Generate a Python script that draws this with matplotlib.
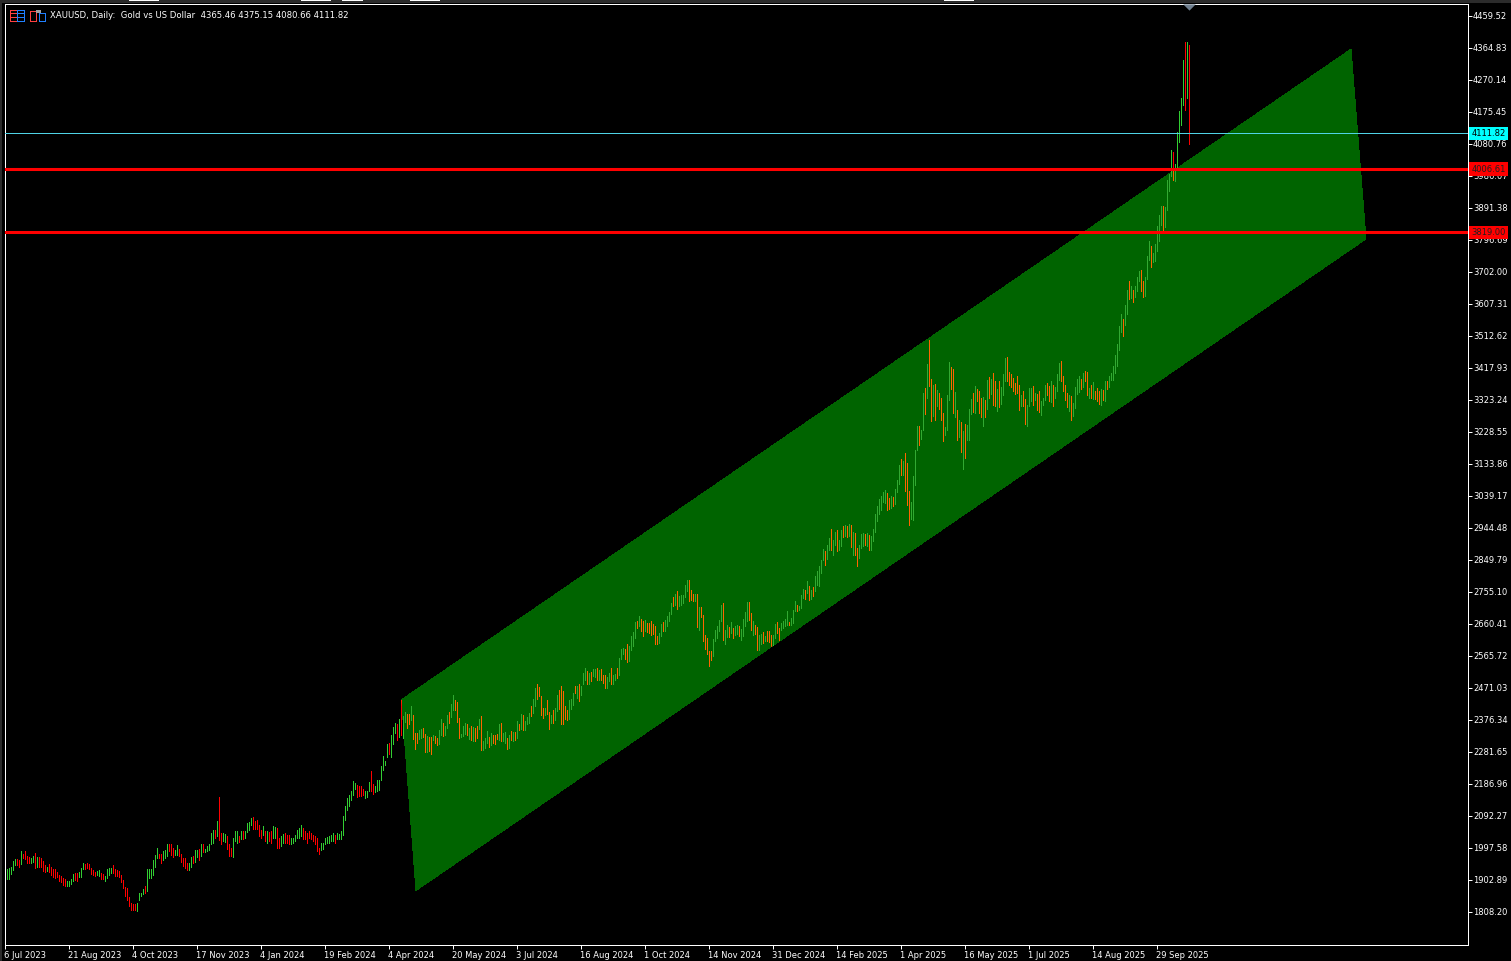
# -*- coding: utf-8 -*-
# XAUUSD daily bars with price channel, drawn in the MT5 terminal look
import matplotlib
matplotlib.use('Agg')
import matplotlib.pyplot as plt
from matplotlib.patches import Polygon, Rectangle

highs = [
    1936,1939,1941,1960,1966,1965,1963,1988,1981,1989,
    1975,1971,1967,1975,1983,1971,1971,1968,1960,1946,
    1942,1949,1941,1936,1934,1928,1919,1914,1909,1906,
    1901,1899,1907,1922,1924,1924,1926,1939,1952,1949,
    1953,1949,1939,1932,1926,1929,1932,1924,1922,1914,
    1934,1939,1939,1948,1936,1932,1929,1917,1904,1883,
    1880,1853,1835,1833,1833,1835,1865,1865,1877,1886,
    1934,1934,1934,1963,1978,1998,1981,1981,1988,1991,
    2010,2010,2010,1998,1993,2005,1995,1981,1968,1968,
    1953,1952,1971,1973,1991,1991,1995,2008,2008,1995,
    2003,2008,2042,2052,2050,2077,2148,2042,2042,2040,
    2034,2008,1998,2027,2049,2047,2034,2049,2047,2047,
    2072,2074,2087,2090,2077,2080,2067,2052,2064,2047,
    2047,2044,2047,2064,2060,2057,2027,2032,2040,2042,
    2037,2037,2027,2027,2037,2052,2057,2067,2057,2047,
    2042,2047,2042,2037,2032,2027,1998,2013,2013,2027,
    2030,2034,2037,2042,2037,2042,2040,2047,2092,2121,
    2146,2153,2167,2197,2190,2185,2182,2180,2173,2165,
    2165,2192,2224,2188,2182,2198,2200,2239,2269,2254,
    2304,2307,2333,2355,2366,2363,2378,2434,2387,2399,
    2395,2395,2419,2392,2338,2338,2346,2350,2353,2336,
    2330,2326,2326,2333,2330,2323,2348,2379,2366,2360,
    2392,2399,2425,2451,2434,2429,2382,2336,2360,2366,
    2363,2353,2360,2356,2353,2358,2379,2389,2315,2323,
    2343,2326,2338,2333,2333,2336,2363,2368,2338,2340,
    2323,2333,2343,2340,2340,2373,2363,2395,2392,2373,
    2385,2397,2419,2439,2471,2484,2474,2447,2412,2412,
    2435,2400,2392,2405,2412,2451,2464,2478,2461,2419,
    2407,2435,2437,2456,2478,2478,2484,2476,2514,2530,
    2520,2516,2518,2527,2528,2530,2525,2527,2508,2508,
    2504,2516,2530,2508,2511,2530,2560,2586,2589,2586,
    2602,2596,2626,2636,2665,2670,2685,2676,2668,2673,
    2663,2663,2670,2661,2655,2626,2634,2661,2667,2671,
    2683,2695,2722,2740,2750,2759,2744,2746,2747,2777,
    2791,2791,2762,2750,2750,2750,2711,2711,2688,2629,
    2619,2581,2579,2617,2642,2655,2673,2718,2722,2644,
    2658,2650,2667,2649,2653,2658,2655,2646,2676,2697,
    2724,2726,2693,2668,2658,2651,2629,2632,2636,2624,
    2640,2640,2629,2629,2661,2666,2649,2663,2668,2675,
    2698,2666,2678,2701,2727,2718,2715,2747,2765,2760,
    2787,2774,2762,2769,2801,2818,2833,2849,2883,2875,
    2895,2915,2942,2910,2932,2939,2908,2939,2949,2954,
    2951,2957,2954,2932,2930,2885,2895,2928,2930,2928,
    2930,2925,2920,2941,2985,3010,3030,3040,3051,3058,
    3048,3033,3038,3035,3060,3087,3130,3148,3144,3166,
    3137,3055,3022,3099,3176,3247,3247,3235,3344,3358,
    3430,3501,3385,3368,3371,3354,3344,3329,3285,3243,
    3339,3435,3421,3415,3347,3294,3265,3258,3230,3253,
    3250,3297,3327,3344,3365,3355,3351,3329,3332,3324,
    3383,3391,3385,3403,3378,3355,3378,3363,3401,3447,
    3450,3405,3401,3388,3373,3395,3368,3339,3351,3326,
    3309,3358,3358,3365,3344,3342,3349,3319,3329,3368,
    3373,3366,3378,3368,3361,3401,3432,3439,3395,3368,
    3344,3337,3336,3314,3361,3385,3393,3385,3403,3410,
    3405,3358,3368,3375,3351,3358,3349,3355,3354,3380,
    3378,3395,3403,3425,3455,3490,3541,3579,3564,3603,
    3648,3676,3660,3650,3660,3687,3704,3709,3674,3687,
    3750,3793,3780,3758,3786,3837,3871,3896,3898,3894,
    3973,3993,4062,4058,4022,4117,4179,4217,4330,4382,
    4383,4375,
]
lows = [
    1907,1907,1921,1931,1946,1947,1942,1951,1968,1965,
    1953,1953,1952,1956,1939,1942,1942,1942,1929,1927,
    1929,1927,1919,1911,1910,1911,1900,1898,1889,1884,
    1884,1884,1892,1899,1904,1901,1912,1912,1934,1934,
    1937,1934,1921,1917,1914,1917,1916,1906,1906,1899,
    1909,1919,1924,1924,1914,1914,1912,1896,1880,1855,
    1845,1825,1813,1813,1813,1810,1843,1855,1860,1865,
    1870,1909,1909,1919,1942,1968,1968,1953,1963,1968,
    1973,1990,1978,1971,1978,1978,1975,1956,1944,1939,
    1932,1932,1942,1953,1955,1971,1963,1975,1985,1985,
    1988,1993,2008,2013,2027,2032,2020,2008,2018,2015,
    1995,1975,1975,1971,2018,2013,2015,2023,2024,2027,
    2044,2052,2067,2054,2054,2054,2032,2027,2037,2018,
    2013,2018,2013,2027,2027,1998,1998,2003,2013,2013,
    2013,2008,2008,2013,2018,2027,2027,2032,2023,2023,
    2013,2027,2023,2018,2008,1988,1981,1993,1995,2008,
    2013,2013,2018,2018,2013,2023,2023,2023,2037,2080,
    2109,2121,2141,2153,2172,2149,2151,2151,2153,2145,
    2149,2165,2165,2157,2163,2165,2170,2200,2228,2244,
    2267,2277,2266,2304,2338,2318,2326,2333,2323,2370,
    2353,2363,2376,2321,2289,2308,2320,2322,2326,2282,
    2281,2284,2277,2318,2308,2301,2304,2333,2330,2333,
    2353,2368,2385,2405,2405,2370,2323,2326,2330,2336,
    2333,2320,2318,2313,2313,2323,2350,2287,2287,2294,
    2308,2297,2301,2308,2304,2320,2318,2315,2313,2308,
    2291,2294,2318,2315,2318,2323,2348,2350,2348,2348,
    2363,2366,2389,2397,2419,2439,2447,2392,2382,2392,
    2395,2351,2366,2368,2376,2402,2409,2363,2363,2379,
    2377,2379,2409,2422,2456,2442,2432,2449,2484,2496,
    2484,2484,2491,2506,2504,2494,2494,2494,2486,2471,
    2471,2491,2484,2484,2496,2501,2508,2558,2572,2557,
    2547,2550,2582,2594,2620,2648,2655,2641,2624,2639,
    2636,2634,2629,2632,2602,2602,2604,2626,2641,2639,
    2655,2668,2691,2713,2718,2706,2713,2717,2722,2740,
    2757,2729,2732,2729,2729,2650,2642,2680,2609,2587,
    2572,2535,2553,2565,2609,2619,2639,2668,2614,2602,
    2622,2621,2634,2619,2629,2632,2624,2612,2626,2655,
    2668,2673,2644,2629,2632,2583,2584,2602,2604,2609,
    2609,2606,2594,2599,2619,2634,2612,2644,2649,2653,
    2658,2656,2658,2663,2698,2698,2701,2708,2737,2734,
    2752,2730,2734,2744,2757,2777,2772,2811,2849,2834,
    2853,2880,2880,2865,2895,2875,2880,2892,2918,2920,
    2918,2920,2888,2865,2865,2831,2856,2885,2890,2893,
    2892,2878,2880,2905,2932,2965,2985,2999,3020,3018,
    2999,3002,3005,3010,3016,3051,3075,3100,3102,3053,
    3013,2954,2972,2969,3073,3176,3191,3208,3233,3283,
    3329,3365,3260,3275,3263,3304,3296,3265,3201,3220,
    3235,3322,3355,3285,3273,3206,3215,3168,3120,3153,
    3206,3204,3283,3289,3286,3321,3285,3273,3245,3272,
    3297,3329,3341,3307,3306,3291,3301,3312,3337,3378,
    3380,3368,3363,3349,3342,3344,3294,3306,3304,3253,
    3247,3304,3321,3309,3322,3294,3289,3280,3309,3322,
    3339,3319,3317,3306,3329,3349,3383,3380,3351,3324,
    3301,3291,3265,3275,3299,3342,3347,3356,3363,3380,
    3339,3329,3329,3327,3327,3321,3312,3309,3324,3319,
    3356,3363,3383,3383,3403,3423,3470,3525,3512,3546,
    3579,3622,3625,3612,3628,3645,3674,3645,3627,3630,
    3682,3737,3717,3731,3733,3763,3793,3842,3824,3835,
    3884,3941,3985,3975,3972,4005,4088,4138,4197,4182,
    4217,4080,
]
# U = bull bar, D = bear bar
directions = (
    "UUUUUDDUDD" "DDUUDUDDDD" "UDDDDDDDDD" "UUUUDDUUUD" "DDDDDUUDDU"
    "UUUDDDDDDD" "DDDDDUUUUD" "UUUUUUDDUU" "UDDDUUDDDD" "DUUDUUDUDU"
    "UUUUDUDDUU" "DDDUUUDUDU" "UUUDDDDDUD" "UDDUUDDUUD" "DDUUUUUUDD"
    "DDDDDDDUUU" "UUUUDUUUUU" "UUUUUDDDDU" "UUDDUUUUUU" "UDUUUDUDUU"
    "DDUDDDUUDD" "UDDUDDUUDU" "UDUUDDDUUU" "DUDUDDUDUU" "UDUDDDUDUU"
    "DUDUDUDUDU" "UUDUUDDDDU" "DDUDUUDDDD" "DUUUDUDUUU" "DUDUUDUDDD"
    "UUDUUDUUUD" "DUUUUDUDDU" "DDDDDDUUDU" "UUUDUDUUUU" "UDDDUDUDDD"
    "DDDUUUUUDU" "UDUDUUDUUU" "UDDUDDUUDU" "DDDUUDDUUU" "UDUUUDUUUD"
    "UDUDUUUUUD" "UUDUUDUUDU" "DUDUDDUUUD" "UDUUUUUUUU" "DDUDUUUDUD"
    "DDUUUUDUUD" "UDDUDUDDDU" "UUDDUDUDUD" "UUUDUDDDUD" "UDUDDUDUUU"
    "DDDDDDDUDD" "UUUDUDDUUU" "DDUDUUUDDD" "DUDUUUUDUD" "DUDUDDDUDU"
    "DUUUUUUUDU" "UDUDUUUDDU" "UUDUUUUUDU" "UUUDUUUUUD" "UD"
)

price_ticks = [4459.52, 4364.83, 4270.14, 4175.45, 4080.76, 3986.07, 3891.38, 3796.69,
               3702.00, 3607.31, 3512.62, 3417.93, 3323.24, 3228.55, 3133.86, 3039.17,
               2944.48, 2849.79, 2755.10, 2660.41, 2565.72, 2471.03, 2376.34, 2281.65,
               2186.96, 2092.27, 1997.58, 1902.89, 1808.20]
date_labels = ['6 Jul 2023', '21 Aug 2023', '4 Oct 2023', '17 Nov 2023', '4 Jan 2024',
               '19 Feb 2024', '4 Apr 2024', '20 May 2024', '3 Jul 2024', '16 Aug 2024',
               '1 Oct 2024', '14 Nov 2024', '31 Dec 2024', '14 Feb 2025', '1 Apr 2025',
               '16 May 2025', '1 Jul 2025', '14 Aug 2025', '29 Sep 2025']
date_bars = [-1 + 32 * k for k in range(len(date_labels))]

channel_bars = [197.5, 672.25, 679.75, 204.75]
channel_prices = [2436, 4361, 3800, 1872]

last_price = 4111.82
red_levels = [4006.61, 3819.00]

BULL = '#32CD32'
BEAR = '#FF0000'
BULL_ON_FILL = '#32A932'   # terminal blends bars with the channel colour
BEAR_ON_FILL = '#FF6400'
FILL = '#006400'
CYAN = '#00FFFF'
W, H = 1511, 961

assert len(highs) == len(lows) == len(directions)

plt.rcParams['font.family'] = ['DejaVu Sans']
fig = plt.figure(figsize=(W / 100, H / 100), dpi=100, facecolor='black')
ax = fig.add_axes([4.5 / W, 1 - 944.5 / H, 1463 / W, 940 / H], facecolor='black')
ax.set_xlim(-1, 730.5)
ax.set_ylim(1712.0, 4493.4)

channel = Polygon(list(zip(channel_bars, channel_prices)), closed=True, fc=FILL, ec='none',
                  antialiased=False, zorder=1)
ax.add_patch(channel)

bars = list(range(len(highs)))
base_cols = [BULL if d == 'U' else BEAR for d in directions]
fill_cols = [BULL_ON_FILL if d == 'U' else BEAR_ON_FILL for d in directions]
ax.vlines(bars, lows, highs, colors=base_cols, linewidth=0.72, antialiased=False, zorder=2)
inner = ax.vlines(bars, lows, highs, colors=fill_cols, linewidth=0.72, antialiased=False, zorder=3)
inner.set_clip_path(channel)

ax.axhline(last_price, color='#4FD3E6', lw=0.72, zorder=4)
for lvl in red_levels:
    ax.axhline(lvl, color='#FF0000', lw=2.2, zorder=5)

# ask marker on the top edge above the last bar
ax.plot(bars[-1], 4486, marker=[(-1, 0.5), (1, 0.5), (0, -0.5)], ms=9, color='#708090',
        mec='none', clip_on=False, zorder=6)

ax.yaxis.tick_right()
ax.set_yticks(price_ticks)
ax.set_yticklabels(['%.2f' % p for p in price_ticks])
ax.set_xticks(date_bars)
ax.set_xticklabels(date_labels, ha='left')
ax.tick_params(axis='y', colors='white', length=3, width=0.72, pad=1, labelsize=6)
ax.tick_params(axis='x', colors='white', length=3, width=0.72, pad=1.5, labelsize=6)
for s in ax.spines.values():
    s.set_color('white')
    s.set_linewidth(0.72)

# price tags on the scale
tag_tf = ax.get_yaxis_transform()
ax.text(1.0026, last_price, '%.2f' % last_price, transform=tag_tf, color='black', fontsize=6,
        va='center', ha='left', clip_on=False, zorder=10,
        bbox=dict(boxstyle='square,pad=0.25', fc=CYAN, ec='none'))
for lvl in red_levels:
    ax.text(1.0026, lvl, '%.2f' % lvl, transform=tag_tf, color='#202020', fontsize=6,
            va='center', ha='left', clip_on=False, zorder=10,
            bbox=dict(boxstyle='square,pad=0.25', fc='#FF0000', ec='none'))

fig.text(50 / W, 1 - 15.5 / H, 'XAUUSD, Daily:  Gold vs US Dollar  4365.46 4375.15 4080.66 4111.82',
         color='white', fontsize=6.1, va='center', ha='left')


def px_rect(x, y, w, h, **kw):
    fig.add_artist(Rectangle((x / W, 1 - (y + h) / H), w / W, h / H, transform=fig.transFigure,
                             antialiased=False, **kw))


# window strip above the chart
px_rect(0, 0, W, 2.5, fc='#2B2B2B', ec='none')
px_rect(0, 0, 1.5, H, fc='#2B2B2B', ec='none')
for x0, x1 in [(129, 159), (301, 331), (342, 363), (410, 440), (944, 974)]:
    px_rect(x0, 0, x1 - x0, 1, fc='white', ec='none')

# the two little toolbar icons next to the title
for x, c in [(9.5, '#FF4040'), (17, '#2080FF')]:
    px_rect(x, 10.5, 7, 10, fc='none', ec=c, lw=0.72)
    px_rect(x, 13.5, 7, 0.8, fc=c, ec='none')
    px_rect(x, 17, 7, 0.8, fc=c, ec='none')
px_rect(30.5, 11, 6, 9.5, fc='none', ec='#FF4040', lw=0.72)
px_rect(38.5, 13, 6, 7.5, fc='none', ec='#2080FF', lw=0.72)
px_rect(35.5, 10, 5, 3, fc='#A0A0A0', ec='none')

fig.savefig('out.png', dpi=100, facecolor='black')
